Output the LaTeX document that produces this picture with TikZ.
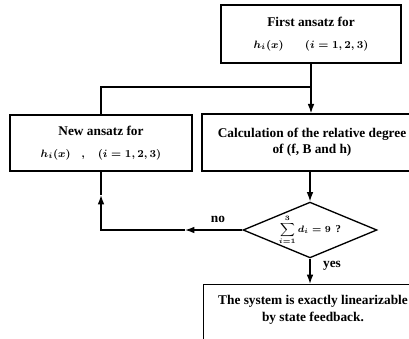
\documentclass[tikz,border=0pt]{standalone}
\usepackage{amsmath}
\usepackage{fontspec}
\setmainfont{Liberation Serif}
\usetikzlibrary{shapes.geometric,arrows.meta,positioning}
\begin{document}
\begin{tikzpicture}[x=0.75pt,y=-0.75pt,
		box/.style={draw,line width=1pt,inner sep=2pt,align=center,font=\bfseries\boldmath},
		test/.style={draw,line width=1pt,shape=diamond,aspect=2.4,inner sep=0pt,minimum width=97.5pt,minimum height=40.5pt,font=\bfseries\boldmath},
		line/.style={line width=1pt},
		arr/.style={line width=1pt,-{Latex[length=7pt,width=5pt]}},
		lab/.style={font=\bfseries}]
		
		\useasboundingbox (0,0) rectangle (409,338);
		\clip (0,0) rectangle (409,338);
		
		
		\node[box,minimum width=135pt,minimum height=43.5pt] (first) at (311,34)
		{First ansatz for\\[4pt] \footnotesize$h_i(x)\qquad(i=1,2,3)$};
		\node[box,minimum width=136.5pt,minimum height=42pt] (newans) at (101,143)
		{New ansatz for\\[4pt] \footnotesize$h_i(x)\quad,\quad(i=1,2,3)$};
		\node[box,minimum width=165pt,minimum height=42.75pt] (calc) at (312,142.5)
		{Calculation of the relative degree\\ of (f, B and h)};
		\node[test] (check) at (310,230)
		{\scriptsize$\displaystyle\sum_{i=1}^{3} d_i=9$\enspace\footnotesize ?};
		\node[draw,line width=1pt,anchor=north west,minimum width=170pt,minimum height=80pt] (result) at (203,284) {};
		\node[lab,align=center] (resulttext) at (313,310)
		{The system is exactly linearizable\\[1pt] by state feedback.};
		
		
		\node[lab] (nolabel) at (218,219) {no};
		\node[lab] (yeslabel) at (332,266) {yes};
		
		
		\coordinate (join) at (311,87);
		\coordinate (noarrow) at (185,230);
		\coordinate (noturn) at (101,230);
		\coordinate (uparrow) at (101,195);
		
		
		\draw[arr] (first.south) -- (first.south |- calc.north);
		\draw[line] (newans.north) |- (join);
		\draw[arr] (check.north |- calc.south) -- (check.north);
		\draw[arr] (check.south) -- (check.south |- result.north);
		\draw[arr] (check.west) -- (noarrow);
		\draw[arr] (noarrow) -- (noturn) -- (uparrow);
		\draw[line] (uparrow) -- (newans.south);
		
		
	\end{tikzpicture}
\end{document}
